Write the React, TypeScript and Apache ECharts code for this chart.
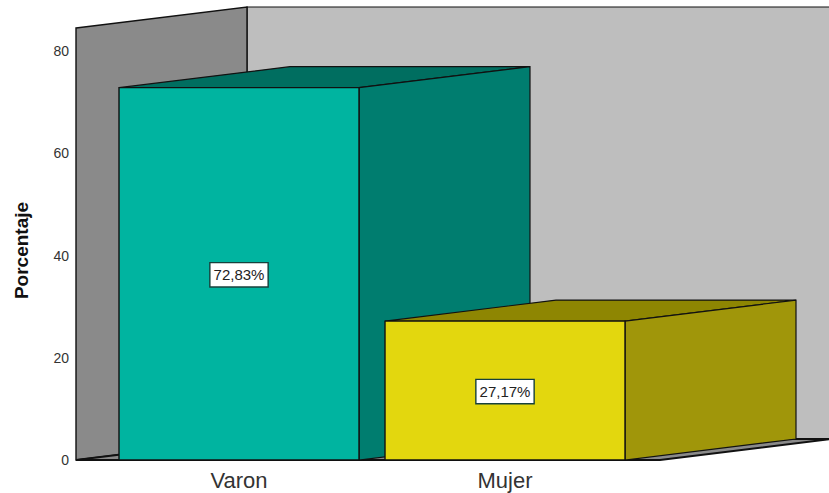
import React, { useEffect, useRef } from "react";
import * as echarts from "echarts";

const categories = ["Varon", "Mujer"];
const percentages = [72.83, 27.17];
const percentageLabels = ["72,83%", "27,17%"];
const yTicks = { min: 0, max: 80, interval: 20 };
const frontColors = ["#00b4a0", "#e3d70e"];
const sideColors = ["#007d6f", "#a0960a"];
const topColors = ["#006e60", "#8e8602"];

const DEPTH_X = 171;
const DEPTH_Y = -21;
const LINE = "#111111";

const poly = (points: number[][], fill: string, lineWidth = 1.2) => ({
  type: "polygon",
  shape: { points },
  style: { fill, stroke: LINE, lineWidth },
});

function renderWalls(params: any, api: any) {
  const cs = params.coordSys;
  const bottom = api.coord([0, 0])[1];
  const wallTop = api.coord([0, 84.5])[1];
  const left = cs.x - 30;
  const frontRight = cs.x + cs.width + 22;
  const dx = DEPTH_X;
  const dy = DEPTH_Y;
  return {
    type: "group",
    children: [
      poly([[left + dx, wallTop + dy], [frontRight + dx + 20, wallTop + dy], [frontRight + dx + 20, bottom + dy], [left + dx, bottom + dy]], "#bebebe"),
      poly([[left, wallTop], [left + dx, wallTop + dy], [left + dx, bottom + dy], [left, bottom]], "#8a8a8a", 1.4),
      poly([[left, bottom], [left + dx, bottom + dy], [frontRight + dx, bottom + dy], [frontRight, bottom]], "#8a8a8a", 1.8),
    ],
  };
}

function renderBar(params: any, api: any) {
  const i = params.dataIndex;
  const [cx, top] = api.coord([api.value(0), api.value(1)]);
  const [, base] = api.coord([api.value(0), 0]);
  const halfW = 120;
  const l = cx - halfW;
  const r = cx + halfW;
  const dx = DEPTH_X;
  const dy = DEPTH_Y;
  return {
    type: "group",
    children: [
      poly([[l, top], [l + dx, top + dy], [r + dx, top + dy], [r, top]], topColors[i]),
      poly([[r, top], [r + dx, top + dy], [r + dx, base + dy], [r, base]], sideColors[i]),
      poly([[l, top], [r, top], [r, base], [l, base]], frontColors[i], 1.4),
      {
        type: "text",
        x: cx,
        y: (top + base) / 2 + 1,
        style: {
          text: percentageLabels[i],
          fill: "#222222",
          font: '15px "Liberation Sans", Arial, sans-serif',
          align: "center",
          verticalAlign: "middle",
          backgroundColor: "#ffffff",
          borderColor: "#17413c",
          borderWidth: 1.4,
          padding: [5, 3, 3, 3],
        },
      },
    ],
  };
}

export default function App() {
  const ref = useRef<HTMLDivElement>(null);
  useEffect(() => {
    document.body.style.margin = "0";
    const chart = echarts.init(ref.current!, undefined, { renderer: "svg" });
    chart.setOption({
      animation: false,
      backgroundColor: "#ffffff",
      grid: { left: 106, top: 51, width: 532, height: 409 },
      xAxis: {
        type: "category",
        data: categories,
        axisLine: { show: false },
        axisTick: { show: false },
        axisLabel: {
          margin: 9,
          fontSize: 22,
          color: "#333333",
          fontFamily: '"Liberation Sans", Arial, sans-serif',
        },
      },
      yAxis: {
        type: "value",
        ...yTicks,
        offset: 30,
        name: "Porcentaje",
        nameLocation: "middle",
        nameGap: 45,
        nameTextStyle: {
          fontSize: 19,
          fontWeight: "bold",
          color: "#111111",
          fontFamily: '"Liberation Sans Narrow", "Liberation Sans", sans-serif',
          padding: [0, 0, 0, 10],
        },
        axisLine: { show: false },
        axisTick: { show: false },
        splitLine: { show: false },
        axisLabel: {
          margin: 7,
          fontSize: 14,
          color: "#333333",
          padding: [2, 0, 0, 0],
          fontFamily: '"Liberation Sans", Arial, sans-serif',
        },
      },
      series: [
        {
          type: "custom",
          silent: true,
          renderItem: renderWalls,
          data: [[0, 0]],
          encode: { x: 0, y: 1 },
        },
        {
          type: "custom",
          silent: true,
          renderItem: renderBar,
          data: categories.map((c, i) => [i, percentages[i]]),
          encode: { x: 0, y: 1 },
        },
      ],
    });
    return () => chart.dispose();
  }, []);
  return <div ref={ref} style={{ width: 829, height: 493 }} />;
}
